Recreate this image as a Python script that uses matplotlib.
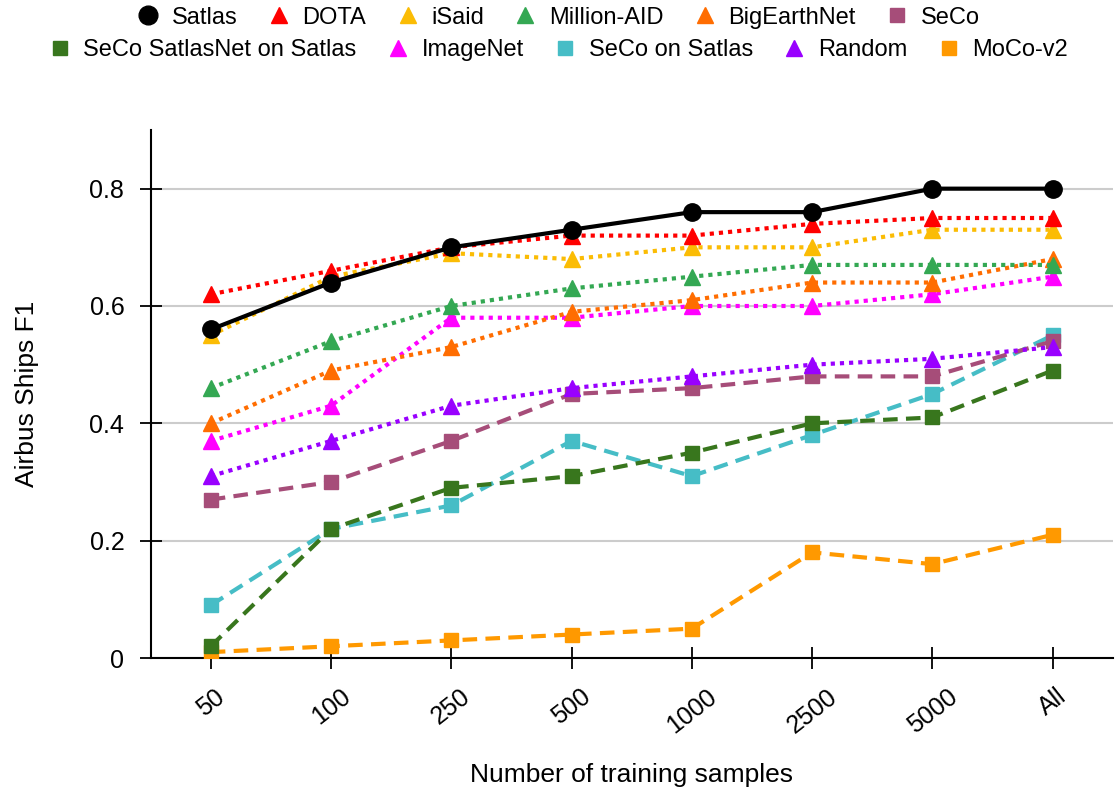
import matplotlib.pyplot as plt
from matplotlib.lines import Line2D

plt.rcParams['font.family'] = ['Liberation Sans', 'DejaVu Sans']

sizes = ['50', '100', '250', '500', '1000', '2500', '5000', 'All']

satlas = [0.56, 0.64, 0.70, 0.73, 0.76, 0.76, 0.80, 0.80]
dota = [0.62, 0.66, 0.70, 0.72, 0.72, 0.74, 0.75, 0.75]
isaid = [0.55, 0.65, 0.69, 0.68, 0.70, 0.70, 0.73, 0.73]
million_aid = [0.46, 0.54, 0.60, 0.63, 0.65, 0.67, 0.67, 0.67]
bigearthnet = [0.40, 0.49, 0.53, 0.59, 0.61, 0.64, 0.64, 0.68]
seco = [0.27, 0.30, 0.37, 0.45, 0.46, 0.48, 0.48, 0.54]
seco_satlasnet = [0.02, 0.22, 0.29, 0.31, 0.35, 0.40, 0.41, 0.49]
imagenet = [0.37, 0.43, 0.58, 0.58, 0.60, 0.60, 0.62, 0.65]
seco_on_satlas = [0.09, 0.22, 0.26, 0.37, 0.31, 0.38, 0.45, 0.55]
random_init = [0.31, 0.37, 0.43, 0.46, 0.48, 0.50, 0.51, 0.53]
moco_v2 = [0.01, 0.02, 0.03, 0.04, 0.05, 0.18, 0.16, 0.21]

dot = (0, (1.0, 1.2))
dash = (0, (3.5, 2.0))

# (label, values, colour, marker, linestyle)
series = [
    ('MoCo-v2', moco_v2, '#ff9900', 's', dash),
    ('SeCo on Satlas', seco_on_satlas, '#46bdc6', 's', dash),
    ('SeCo SatlasNet on Satlas', seco_satlasnet, '#38761d', 's', dash),
    ('SeCo', seco, '#a64d79', 's', dash),
    ('Random', random_init, '#9900ff', '^', dot),
    ('ImageNet', imagenet, '#ff00ff', '^', dot),
    ('BigEarthNet', bigearthnet, '#ff6d01', '^', dot),
    ('Million-AID', million_aid, '#34a853', '^', dot),
    ('iSaid', isaid, '#fbbc04', '^', dot),
    ('DOTA', dota, '#ff0000', '^', dot),
    ('Satlas', satlas, '#000000', 'o', '-'),
]

fig = plt.figure(figsize=(11.16, 8), dpi=100)
ax = fig.add_axes([0.135, 0.1775, 0.862, 0.66])

x = list(range(len(sizes)))
styles = {}
for label, vals, color, marker, ls in series:
    ms = {'o': 12.5, '^': 11, 's': 9.5}[marker]
    ax.plot(x, vals, color=color, linestyle=ls, linewidth=3, marker=marker,
            markersize=ms, dash_capstyle='butt', zorder=3)
    styles[label] = (color, marker, ms)

ax.set_xlim(-0.5, 7.5)
ax.set_ylim(0, 0.9)
ax.set_yticks([0, 0.2, 0.4, 0.6, 0.8])
ax.set_yticklabels(['0', '0.2', '0.4', '0.6', '0.8'])
ax.set_xticks(x)
ax.set_xticklabels(sizes, rotation=38)
ax.tick_params(direction='inout', length=16, width=1.3, labelsize=18, pad=11)
ax.grid(axis='y', color='#cccccc', linewidth=1.5, zorder=0)
ax.set_axisbelow(True)
for side in ['top', 'right']:
    ax.spines[side].set_visible(False)
for side in ['left', 'bottom']:
    ax.spines[side].set_linewidth(1.5)

ax.set_xlabel('Number of training samples', fontsize=19, labelpad=18)
ax.set_ylabel('Airbus Ships F1', fontsize=19, labelpad=36)


def legend_row(labels, y):
    handles = []
    for lab in labels:
        color, marker, ms = styles[lab]
        handles.append(Line2D([], [], linestyle='none', marker=marker, color=color,
                              markersize=ms + 1, label=lab))
    leg = fig.legend(handles=handles, loc='center', bbox_to_anchor=(0.5, y),
                     ncol=len(handles), frameon=False, fontsize=17,
                     handlelength=1.0, handletextpad=0.5, columnspacing=1.25)
    return leg


legend_row(['Satlas', 'DOTA', 'iSaid', 'Million-AID', 'BigEarthNet', 'SeCo'], 0.978)
legend_row(['SeCo SatlasNet on Satlas', 'ImageNet', 'SeCo on Satlas', 'Random', 'MoCo-v2'], 0.937)

fig.savefig('out.png', dpi=100)
